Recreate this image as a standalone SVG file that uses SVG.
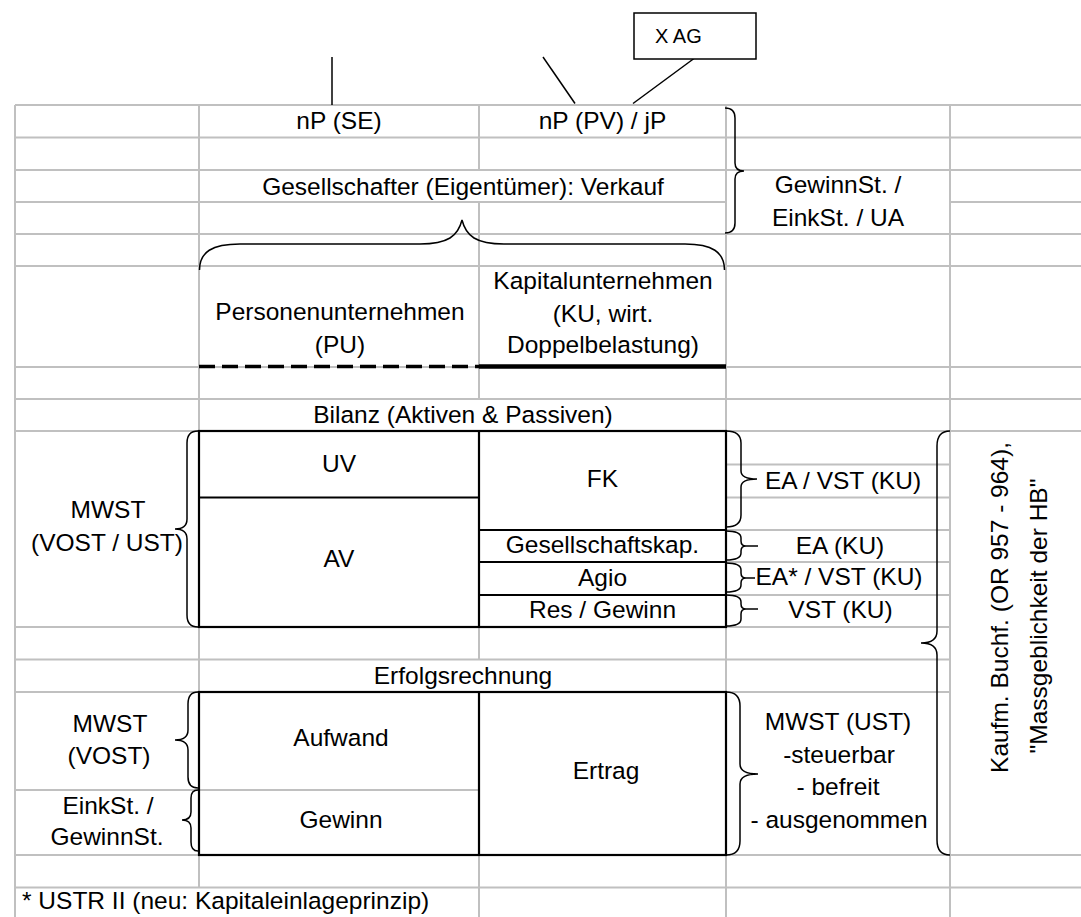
<svg xmlns="http://www.w3.org/2000/svg" width="1081" height="917" viewBox="0 0 1081 917">
<style>
.g{fill:none;stroke:#c0c0c0;stroke-width:2}
.b{fill:none;stroke:#000;stroke-width:2.2}
.br{fill:none;stroke:#000;stroke-width:1.5}
.c{fill:none;stroke:#000;stroke-width:1.5}
.t{font-family:"Liberation Sans",Arial,sans-serif;font-size:24.5px;fill:#000;text-anchor:middle}
.s{text-anchor:start}
</style>
<rect width="1081" height="917" fill="#fff"/>
<g id="grid">
<path class="g" d="M15,105H1081M15,137.5H1081M15,170H1081M15,202H726M950,202H1081M15,234H1081M15,266H1081M15,367H1081M15,399H1081M15,431H1081M726,464.5H950M726,497.5H950M726,530H950M726,562H950M726,595H950M15,627H950M15,659.5H950M15,692H950M15,790H479M15,855H1081M15,887.5H1081"/>
<path class="g" d="M15,105V917M199,105V887.5M479,105V170M479,202V399M479,627V659.5M479,855V917M726,105V917M950,105V917"/>
</g>
<g id="connectors">
<path class="c" d="M332,57V105"/>
<path class="c" d="M543,57L575,103.5"/>
<path class="c" d="M694,58.5L633,103.5"/>
</g>
<g id="xag">
<rect x="634" y="13" width="122" height="46" fill="#fff" stroke="#000" stroke-width="1.5"/>
<text class="t s" x="655" y="43" style="font-size:20px">X AG</text>
</g>
<g id="np-se"><text class="t" x="339" y="128.5">nP (SE)</text></g>
<g id="np-pv"><text class="t" x="602.5" y="128.5">nP (PV) / jP</text></g>
<g id="gesellschafter"><text class="t" x="463" y="194.5">Gesellschafter (Eigentümer): Verkauf</text></g>
<g id="gewinnst-top"><text class="t" x="838" y="193">GewinnSt. /</text><text class="t" x="838" y="226">EinkSt. / UA</text></g>
<g id="pu">
<text class="t" x="340" y="320">Personenunternehmen</text>
<text class="t" x="340" y="353">(PU)</text>
<path d="M199,366.5H479" fill="none" stroke="#000" stroke-width="3.5" stroke-dasharray="16 7"/>
</g>
<g id="ku">
<text class="t" x="603" y="289">Kapitalunternehmen</text>
<text class="t" x="603" y="321.5">(KU, wirt.</text>
<text class="t" x="603" y="353">Doppelbelastung)</text>
<path d="M479,366.5H726" fill="none" stroke="#000" stroke-width="4.5"/>
</g>
<g id="bilanz-title"><text class="t" x="463" y="423">Bilanz (Aktiven &amp; Passiven)</text></g>
<g id="bilanz">
<rect class="b" x="199" y="431" width="527" height="196"/>
<path class="b" d="M479,431V627M199,497.5H479M479,530H726M479,562H726M479,595H726"/>
<text class="t" x="339" y="472">UV</text>
<text class="t" x="339" y="567">AV</text>
<text class="t" x="602.5" y="487">FK</text>
<text class="t" x="602.5" y="553">Gesellschaftskap.</text>
<text class="t" x="602.5" y="586">Agio</text>
<text class="t" x="602.5" y="618">Res / Gewinn</text>
</g>
<g id="mwst-bilanz"><text class="t" x="108" y="518">MWST</text><text class="t" x="107" y="551">(VOST / UST)</text></g>
<g id="ea-vst"><text class="t" x="843" y="488.5">EA / VST (KU)</text></g>
<g id="ea"><text class="t" x="840" y="553.5">EA (KU)</text></g>
<g id="ea-star"><text class="t" x="839" y="585">EA* / VST (KU)</text></g>
<g id="vst"><text class="t" x="840.5" y="617.5">VST (KU)</text></g>
<g id="erfolg-title"><text class="t" x="463" y="683.5">Erfolgsrechnung</text></g>
<g id="erfolg">
<rect class="b" x="199" y="692" width="527" height="163"/>
<path class="b" d="M479,692V855"/>
<text class="t" x="341" y="746">Aufwand</text>
<text class="t" x="341" y="827.5">Gewinn</text>
<text class="t" x="606" y="778.5">Ertrag</text>
</g>
<g id="mwst-vost"><text class="t" x="110" y="731.5">MWST</text><text class="t" x="109" y="763.5">(VOST)</text></g>
<g id="einkst"><text class="t" x="108" y="813.5">EinkSt. /</text><text class="t" x="107" y="845">GewinnSt.</text></g>
<g id="mwst-ust">
<text class="t" x="838" y="730">MWST (UST)</text>
<text class="t" x="839" y="762.5">-steuerbar</text>
<text class="t" x="838" y="795">- befreit</text>
<text class="t" x="839" y="828">- ausgenommen</text>
</g>
<g id="kaufm">
<text class="t" transform="translate(1008,607.5) rotate(-90)">Kaufm. Buchf. (OR 957 - 964),</text>
<text class="t" transform="translate(1047,616) rotate(-90)">&quot;Massgeblichkeit der HB&quot;</text>
</g>
<g id="footnote"><text class="t s" x="22" y="908.5">* USTR II (neu: Kapitaleinlageprinzip)</text></g>
<g id="braces">
<path class="br" d="M725,108Q735,108 735,118L735,163Q735,171 744,171Q735,171 735,179L735,223Q735,233 725,233"/>
<path class="br" d="M199.5,270C199.5,252 212,244 240,244L420,244C448,244 458,236 462,220C466,236 476,244 504,244L685,244C712,244 724.5,252 724.5,270"/>
<path class="br" d="M726,431Q741,431 741,443L741,471Q741,479 757,479Q741,479 741,487L741,515Q741,527 726,527"/>
<path class="br" d="M726,531Q741,531 741,538L741,541Q741,546 746,546Q741,546 741,551L741,553Q741,560 726,560M746,546H758"/>
<path class="br" d="M726,563Q741,563 741,570L741,573Q741,578 746,578Q741,578 741,583L741,585Q741,592 726,592M746,578H755"/>
<path class="br" d="M726,595Q741,595 741,602L741,604Q741,609 746,609Q741,609 741,614L741,619Q741,626 726,626M746,609H758"/>
<path class="br" d="M726,692Q740,692 740,706L740,764Q740,774 758,774Q740,774 740,784L740,841Q740,855 726,855"/>
<path class="br" d="M950,431Q937,431 937,446L937,631Q937,643 921,643Q937,643 937,655L937,840Q937,855 950,855"/>
<path class="br" d="M198,431Q187,431 187,443L187,519Q187,529 175,529Q187,529 187,539L187,615Q187,627 198,627"/>
<path class="br" d="M198,692Q188,692 188,704L188,730Q188,740 175,740Q188,740 188,750L188,777Q188,788 198,788"/>
<path class="br" d="M198,790Q191,790 191,798L191,812Q191,820 182,820Q191,820 191,828L191,842Q191,851 198,851"/>
</g>
</svg>
